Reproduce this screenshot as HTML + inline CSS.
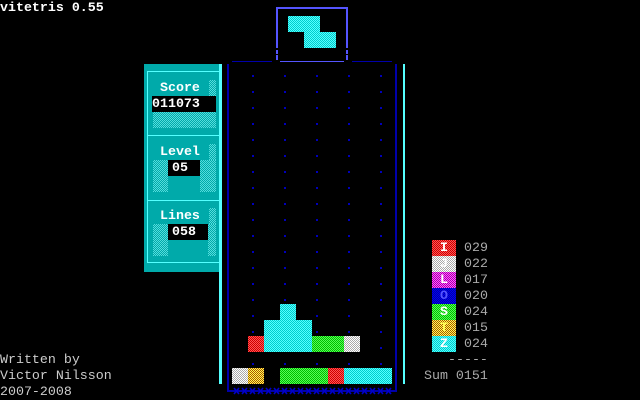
<!DOCTYPE html>
<html><head><meta charset="utf-8"><style>
*{margin:0;padding:0}
body{width:640px;height:400px;background:#000;position:relative;overflow:hidden;font-family:"Liberation Mono",monospace;font-size:13.3px;line-height:16px;color:#aaa}
div{position:absolute}
.t{white-space:pre;height:16px}
.w{color:#fff;font-weight:bold}
.c{width:16px;height:16px}
.cy{background:conic-gradient(#55ffff 25%,#00cccc 0 50%,#55ffff 0 75%,#00cccc 0) 0 0/2px 2px}
.gr{background:conic-gradient(#55ff55 25%,#00bb00 0 50%,#55ff55 0 75%,#00bb00 0) 0 0/2px 2px}
.rd{background:conic-gradient(#ff5555 25%,#cc0000 0 50%,#ff5555 0 75%,#cc0000 0) 0 0/2px 2px}
.wh{background:conic-gradient(#ffffff 25%,#aaaaaa 0 50%,#ffffff 0 75%,#aaaaaa 0) 0 0/2px 2px}
.or{background:conic-gradient(#ffff55 25%,#aa5500 0 50%,#ffff55 0 75%,#aa5500 0) 0 0/2px 2px}
.mg{background:conic-gradient(#ff55ff 25%,#aa00aa 0 50%,#ff55ff 0 75%,#aa00aa 0) 0 0/2px 2px}
.bl{background:conic-gradient(#0000aa 25%,#0000ee 0 50%,#0000aa 0 75%,#0000ee 0) 0 0/2px 2px}
.dot{width:2px;height:2px;background:#0000bb}
.st{background:conic-gradient(#55dddd 25%,#00aaaa 0 50%,#55dddd 0 75%,#00aaaa 0) 0 0/2px 2px}
.lt{color:#fff;font-weight:bold;text-align:center;line-height:16px}
</style></head><body>
<div class="t w" style="left:0;top:0">vitetris 0.55</div>
<div class="t" style="left:0;top:352px;color:#ccc">Written by</div>
<div class="t" style="left:0;top:368px;color:#ccc">Victor Nilsson</div>
<div class="t" style="left:0;top:384px;color:#ccc">2007-2008</div>

<!-- preview -->
<div style="left:276px;top:7px;width:72px;height:2px;background:#5555ff"></div>
<div style="left:276px;top:7px;width:2px;height:41px;background:#5555ff"></div>
<div style="left:346px;top:7px;width:2px;height:41px;background:#5555ff"></div>
<div style="left:276px;top:50px;width:2px;height:4px;background:#5555ff"></div>
<div style="left:276px;top:55px;width:2px;height:5px;background:#5555ff"></div>
<div style="left:346px;top:50px;width:2px;height:4px;background:#5555ff"></div>
<div style="left:346px;top:55px;width:2px;height:5px;background:#5555ff"></div>
<div class="cy" style="left:288px;top:16px;width:32px;height:16px"></div>
<div class="cy" style="left:304px;top:32px;width:32px;height:16px"></div>
<div style="left:232px;top:61px;width:40px;height:1px;background:#0000aa"></div>
<div style="left:280px;top:61px;width:64px;height:1px;background:#5555ff"></div>
<div style="left:352px;top:61px;width:40px;height:1px;background:#0000aa"></div>

<!-- left panel -->
<div style="left:144px;top:64px;width:76px;height:208px;background:#00aaaa"></div>
<div style="left:147px;top:71px;width:73px;height:192px;border:1px solid #55ffff;border-right:none;box-sizing:border-box"></div>
<div style="left:147px;top:135px;width:72px;height:1px;background:#55ffff"></div>
<div style="left:147px;top:200px;width:72px;height:1px;background:#55ffff"></div>
<div style="left:219px;top:64px;width:3px;height:320px;background:#55ffff"></div>
<div class="st" style="left:209px;top:80px;width:7px;height:16px"></div>
<div class="st" style="left:153px;top:112px;width:63px;height:16px"></div>
<div class="st" style="left:209px;top:144px;width:7px;height:16px"></div>
<div class="st" style="left:153px;top:160px;width:15px;height:32px"></div>
<div class="st" style="left:200px;top:160px;width:16px;height:32px"></div>
<div class="st" style="left:209px;top:208px;width:7px;height:16px"></div>
<div class="st" style="left:153px;top:224px;width:15px;height:32px"></div>
<div class="st" style="left:208px;top:224px;width:8px;height:32px"></div>
<div class="t w" style="left:160px;top:80px">Score</div>
<div class="t w" style="left:152px;top:96px;width:64px;background:#000">011073</div>
<div class="t w" style="left:160px;top:144px">Level</div>
<div class="t w" style="left:168px;top:160px;width:32px;background:#000;text-indent:4px">05</div>
<div class="t w" style="left:160px;top:208px">Lines</div>
<div class="t w" style="left:168px;top:224px;width:40px;background:#000;text-indent:4px">058</div>

<!-- board walls -->
<div style="left:227px;top:64px;width:2px;height:328px;background:#0000aa"></div>
<div style="left:395px;top:64px;width:2px;height:328px;background:#0000aa"></div>
<div style="left:227px;top:390px;width:170px;height:2px;background:#0000aa"></div>
<div style="left:403px;top:64px;width:2px;height:320px;background:#55ffff"></div>
<svg style="position:absolute;left:0;top:0" width="640" height="400">
<g stroke="#0000cc" stroke-width="1.6" id="xg"></g>
</svg>
<div id="dots" style="left:0;top:0"></div>

<!-- blocks -->
<div class="cy c" style="left:280px;top:304px"></div>
<div class="cy" style="left:264px;top:320px;width:48px;height:16px"></div>
<div class="rd c" style="left:248px;top:336px"></div>
<div class="cy" style="left:264px;top:336px;width:48px;height:16px"></div>
<div class="gr" style="left:312px;top:336px;width:32px;height:16px"></div>
<div class="wh c" style="left:344px;top:336px"></div>
<div class="wh c" style="left:232px;top:368px"></div>
<div class="or c" style="left:248px;top:368px"></div>
<div class="gr" style="left:280px;top:368px;width:48px;height:16px"></div>
<div class="rd c" style="left:328px;top:368px"></div>
<div class="cy" style="left:344px;top:368px;width:48px;height:16px"></div>

<!-- stats -->
<div class="rd c lt" style="left:432px;top:240px;width:24px">I</div>
<div class="wh c lt" style="left:432px;top:256px;width:24px">J</div>
<div class="mg c lt" style="left:432px;top:272px;width:24px">L</div>
<div class="bl c lt" style="left:432px;top:288px;width:24px;color:#5555ff">O</div>
<div class="gr c lt" style="left:432px;top:304px;width:24px">S</div>
<div class="or c lt" style="left:432px;top:320px;width:24px;color:#ffff55">T</div>
<div class="cy c lt" style="left:432px;top:336px;width:24px">Z</div>
<div class="t" style="left:464px;top:240px">029</div>
<div class="t" style="left:464px;top:256px">022</div>
<div class="t" style="left:464px;top:272px">017</div>
<div class="t" style="left:464px;top:288px">020</div>
<div class="t" style="left:464px;top:304px">024</div>
<div class="t" style="left:464px;top:320px">015</div>
<div class="t" style="left:464px;top:336px">024</div>
<div class="t" style="left:448px;top:352px">-----</div>
<div class="t" style="left:424px;top:368px">Sum 0151</div>
<script>
var d=document.getElementById('dots'),h='';
var filled={};
['280,304','264,320','280,320','296,320','248,336','264,336','280,336','296,336','312,336','328,336','344,336'].forEach(function(k){filled[k]=1});
for(var y=64;y<368;y+=16){for(var x=248;x<392;x+=32){if(filled[x+','+y])continue;
h+='<div class="dot" style="left:'+(x+4)+'px;top:'+(y+11)+'px"></div>';}}
d.innerHTML=h;
var g=document.getElementById('xg'),s='';
for(var x=234;x<392;x+=8){s+='<path d="M'+x+' 388L'+(x+5)+' 394M'+(x+5)+' 388L'+x+' 394"/>';}
g.innerHTML=s;
</script>
</body></html>
